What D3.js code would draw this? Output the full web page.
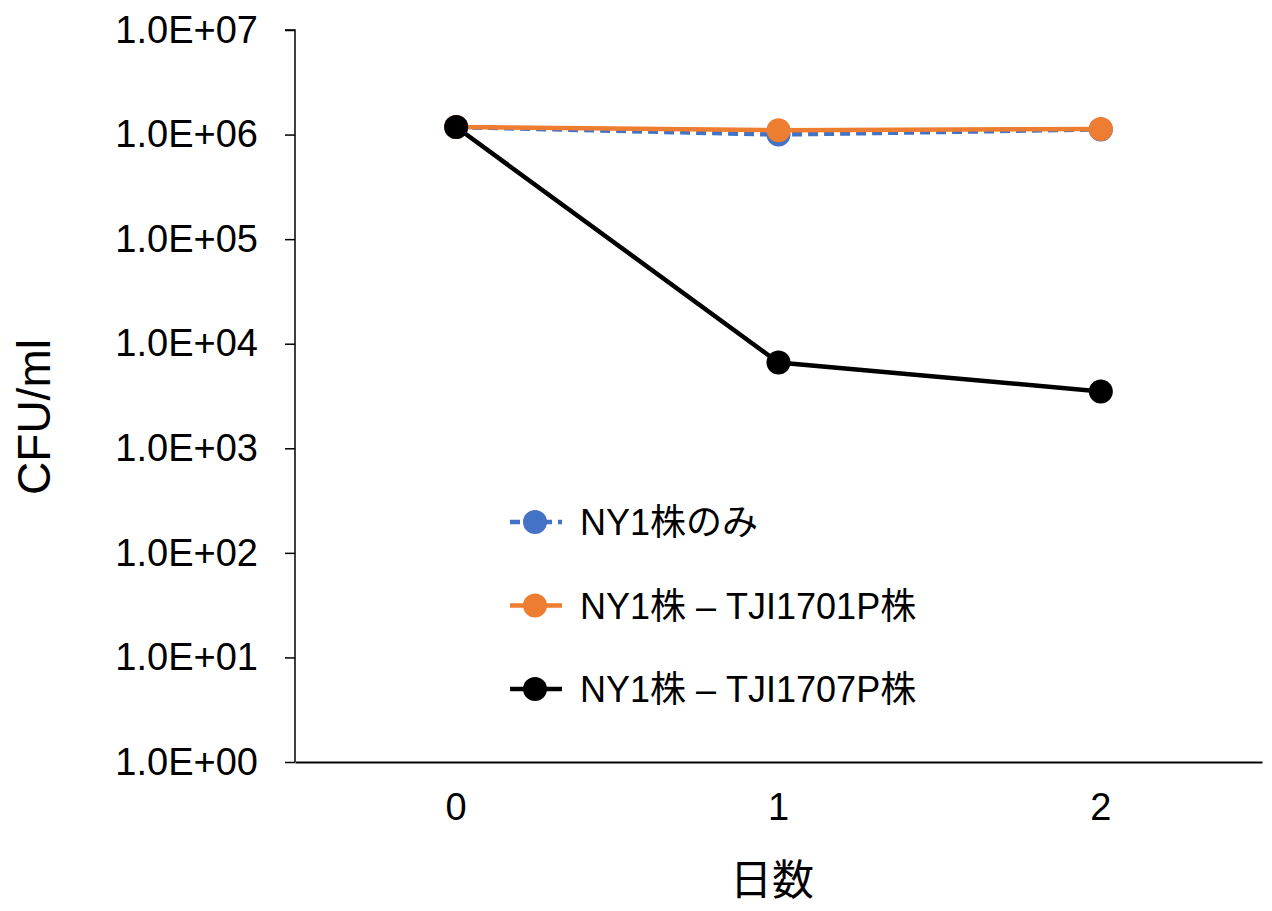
<!DOCTYPE html>
<html>
<head>
<meta charset="utf-8">
<title>CFU chart</title>
<style>
  body { margin: 0; background: #ffffff; }
  text { font-family: "Liberation Sans", Arial, "Noto Sans CJK JP", sans-serif; }
</style>
<script src="https://d3js.org/d3.v7.min.js"></script>
</head>
<body>
<svg id="chart" width="1272" height="911"></svg>
<script>
// data
var days = ["0", "1", "2"];
var seriesNames = ["NY1株のみ", "NY1株 – TJI1701P株", "NY1株 – TJI1707P株"];
var onlyNY1 = [1.18e6, 1.0e6, 1.12e6];
var withTJI1701P = [1.18e6, 1.1e6, 1.13e6];
var withTJI1707P = [1.18e6, 6.6e3, 3.5e3];
var yTicks = [1e0, 1e1, 1e2, 1e3, 1e4, 1e5, 1e6, 1e7];

var colors = ["#4472C4", "#ED7D31", "#000000"];
var dashes = ["10,6", null, null];
var allSeries = [onlyNY1, withTJI1701P, withTJI1707P];

var svg = d3.select("#chart");
var plotLeft = 295, plotRight = 1262, plotTop = 30, plotBottom = 762;

var x = d3.scaleBand().domain(days).range([plotLeft, plotRight]);
var y = d3.scaleLog().domain([1, 1e7]).range([plotBottom, plotTop]);

// y axis
var yAxis = svg.append("g")
    .attr("transform", "translate(" + plotLeft + ",0)")
    .call(d3.axisLeft(y).tickValues(yTicks).tickSize(10).tickPadding(27)
        .tickFormat(function(d) {
            var e = Math.round(Math.log10(d));
            return "1.0E+" + (e < 10 ? "0" : "") + e;
        }));
yAxis.select(".domain").attr("stroke", "#000").attr("stroke-width", 1.5)
    .attr("d", "M-10," + plotTop + "H0V" + plotBottom);
yAxis.selectAll(".tick line").attr("stroke", "#000").attr("stroke-width", 1.5);
yAxis.selectAll(".tick text").style("font-size", "38px").attr("fill", "#000")
    .style("font-family", "Liberation Sans, Arial, sans-serif");

// x axis
var xAxis = svg.append("g")
    .attr("transform", "translate(0," + plotBottom + ")")
    .call(d3.axisBottom(x).tickSize(0).tickPadding(31));
xAxis.select(".domain").attr("stroke", "#000").attr("stroke-width", 2);
xAxis.selectAll(".tick text").style("font-size", "38px").attr("fill", "#000")
    .style("font-family", "Liberation Sans, Arial, sans-serif");

// axis titles
svg.append("text")
    .attr("transform", "translate(50,417) rotate(-90)")
    .attr("text-anchor", "middle")
    .style("font-size", "46px")
    .text("CFU/ml");
svg.append("text")
    .attr("x", 772).attr("y", 895)
    .attr("text-anchor", "middle")
    .style("font-size", "42px")
    .style("font-family", "Noto Sans CJK JP, sans-serif")
    .text("日数");

// lines and markers
var line = d3.line()
    .x(function(d, i) { return x(days[i]) + x.bandwidth() / 2; })
    .y(function(d) { return y(d); });

allSeries.forEach(function(vals, s) {
    var g = svg.append("g");
    g.append("path")
        .attr("d", line(vals))
        .attr("fill", "none")
        .attr("stroke", colors[s])
        .attr("stroke-width", 4.5)
        .attr("stroke-dasharray", dashes[s]);
    g.selectAll("circle").data(vals).enter().append("circle")
        .attr("cx", function(d, i) { return x(days[i]) + x.bandwidth() / 2; })
        .attr("cy", function(d) { return y(d); })
        .attr("r", 12)
        .attr("fill", colors[s]);
});

// legend
var legend = svg.append("g");
seriesNames.forEach(function(name, i) {
    var ly = 522 + i * 83.5;
    legend.append("line")
        .attr("x1", 510).attr("x2", 562)
        .attr("y1", ly).attr("y2", ly)
        .attr("stroke", colors[i])
        .attr("stroke-width", 4.5)
        .attr("stroke-dasharray", dashes[i]);
    legend.append("circle")
        .attr("cx", 535).attr("cy", ly).attr("r", 12)
        .attr("fill", colors[i]);
    legend.append("text")
        .attr("x", 580).attr("y", ly + 13)
        .style("font-size", "36px")
        .text(name);
});
</script>
</body>
</html>
